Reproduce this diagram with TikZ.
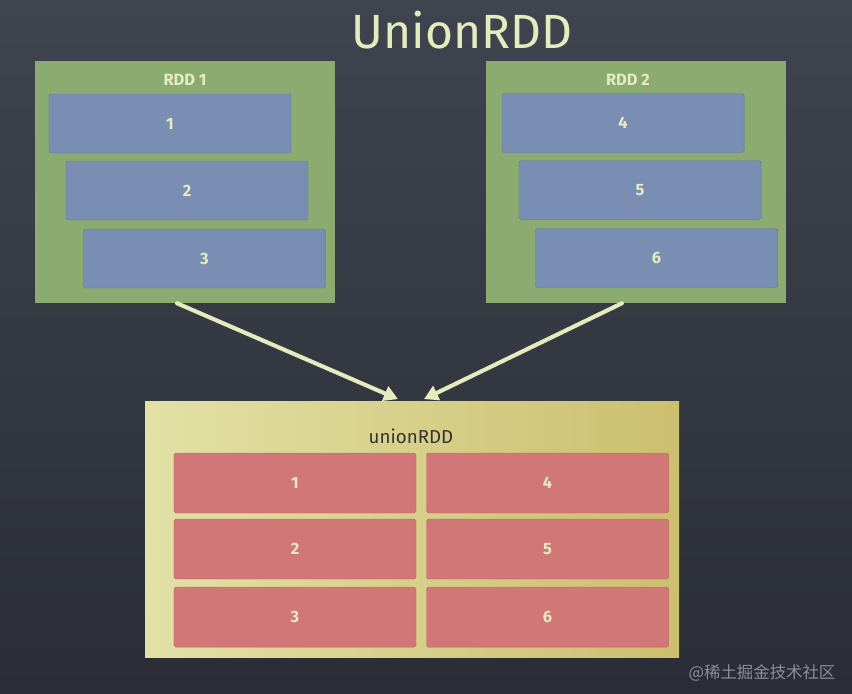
\documentclass[tikz,border=0pt]{standalone}
\usepackage{fontspec}
\setmainfont{Fira Sans}
\newfontfamily\cjk{Noto Sans CJK SC}
\usetikzlibrary{arrows.meta}
\usetikzlibrary{calc}

\definecolor{board}{HTML}{363A45}
\definecolor{boardtop}{HTML}{40444F}
\definecolor{boardlow}{HTML}{2A2D35}
\definecolor{chalk}{HTML}{E4EBBE}
\definecolor{rddgreen}{HTML}{8CAB70}
\definecolor{partblue}{HTML}{7A8DB3}
\definecolor{partedge}{HTML}{66789C}
\definecolor{partred}{HTML}{D27777}
\definecolor{rededge}{HTML}{B86666}
\definecolor{unionlight}{HTML}{E2E1A6}
\definecolor{uniondark}{HTML}{CCBF6E}
\definecolor{mark}{HTML}{8C8F98}

\begin{document}
\begin{tikzpicture}[x=0.03cm,y=-0.03cm,
        rddbox/.style={fill=rddgreen, minimum width=9cm, minimum height=7.26cm, inner sep=0pt},
        bluepart/.style={fill=partblue, draw=partedge, rounded corners=1.5pt, minimum width=7.26cm, minimum height=1.77cm, inner sep=0pt, text=chalk, font=\fontsize{14}{16}\selectfont\bfseries},
        redpart/.style={fill=partred, draw=rededge, rounded corners=1.5pt, minimum width=7.26cm, minimum height=1.8cm, inner sep=0pt, text=chalk, font=\fontsize{14}{16}\selectfont\bfseries},
        rddlabel/.style={text=chalk, font=\fontsize{14}{16}\selectfont\bfseries},
        chalkline/.style={draw=chalk, line width=3.5pt, line cap=round, -{Triangle[length=12pt,width=13pt]}}]
    % board
    \shade[top color=boardtop, bottom color=boardlow] (0,0) rectangle (852,693);
    \useasboundingbox (0,0) rectangle (852,693);
    \node[text=chalk, font=\fontsize{41}{45}\selectfont] (title) at (462,30) {UnionRDD};

    % first rdd
    \node[rddbox] (rdda) at (185,182) {};
    \node[rddlabel] (rddalabel) at (185,80) {RDD 1};
    \node[bluepart] (pa) at (170,123.5) {1};
    \node[bluepart] (pb) at (187,190.5) {2};
    \node[bluepart] (pc) at (204.5,258.5) {3};

    % second rdd
    \node[rddbox] (rddb) at (636,182) {};
    \node[rddlabel] (rddblabel) at (628,80) {RDD 2};
    \node[bluepart] (pd) at (623,123) {4};
    \node[bluepart] (pe) at (640,190) {5};
    \node[bluepart] (pf) at (656.5,258) {6};

    % union
    \shade[left color=unionlight, right color=uniondark] (145,401) rectangle (679,657);
    \node[minimum width=16.02cm, minimum height=7.68cm, inner sep=0pt] (union) at (412,529) {};
    \node[font=\fontsize{16}{18}\selectfont, text=black!80] (unionlabel) at (411,436) {unionRDD};
    \node[redpart] (ua) at (295,483) {1};
    \node[redpart] (ub) at (295,549) {2};
    \node[redpart] (uc) at (295,617) {3};
    \node[redpart] (ud) at (547.5,483) {4};
    \node[redpart] (ue) at (547.5,549) {5};
    \node[redpart] (uf) at (547.5,617) {6};

    % arrows
    \coordinate (sa) at ([xshift=-0.24cm]rdda.south);
    \coordinate (sb) at ([xshift=-0.42cm]rddb.south);
    \coordinate (ta) at ([xshift=-0.42cm,yshift=0.05cm]union.north);
    \coordinate (tb) at ([xshift=0.36cm,yshift=0.05cm]union.north);
    \draw[chalkline] (sa) -- (ta);
    \draw[chalkline] (sb) -- (tb);

    \node[text=mark, font=\cjk\fontsize{14}{16}\selectfont] (mark) at (762,673) {@稀土掘金技术社区};
\end{tikzpicture}
\end{document}
